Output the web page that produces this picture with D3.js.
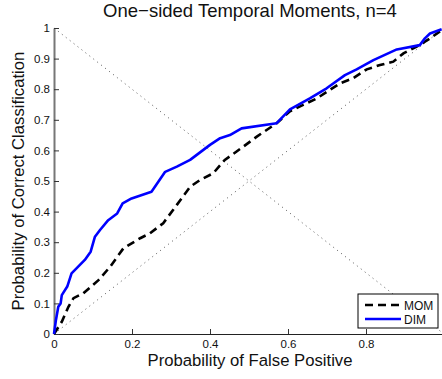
<!DOCTYPE html>
<html>
<head>
<meta charset="utf-8">
<script src="https://cdn.jsdelivr.net/npm/d3@7"></script>
<style>
  body { margin: 0; background: #fff; }
  svg { display: block; font-family: "Liberation Sans", Arial, sans-serif; }
</style>
</head>
<body>
<script>
// ROC curves
var momX = [0, 0.02, 0.037, 0.05, 0.075, 0.114, 0.144, 0.178, 0.221, 0.246, 0.28, 0.315, 0.349, 0.374, 0.408, 0.438, 0.456, 0.485, 0.52, 0.571, 0.605, 0.674, 0.733, 0.767, 0.802, 0.836, 0.87, 0.896, 0.93, 0.964, 0.994];
var momY = [0, 0.04, 0.089, 0.117, 0.133, 0.176, 0.22, 0.28, 0.313, 0.329, 0.362, 0.422, 0.481, 0.503, 0.525, 0.569, 0.585, 0.612, 0.645, 0.689, 0.728, 0.77, 0.819, 0.836, 0.865, 0.879, 0.89, 0.917, 0.939, 0.966, 0.993];
var dimX = [0, 0.005, 0.011, 0.017, 0.02, 0.034, 0.045, 0.079, 0.094, 0.105, 0.118, 0.139, 0.162, 0.176, 0.199, 0.25, 0.285, 0.315, 0.349, 0.4, 0.426, 0.451, 0.481, 0.571, 0.605, 0.656, 0.699, 0.746, 0.776, 0.819, 0.879, 0.938, 0.951, 0.964, 0.994];
var dimY = [0, 0.046, 0.089, 0.1, 0.127, 0.155, 0.198, 0.242, 0.269, 0.318, 0.34, 0.372, 0.394, 0.427, 0.443, 0.465, 0.53, 0.547, 0.569, 0.618, 0.64, 0.65, 0.672, 0.689, 0.734, 0.77, 0.803, 0.846, 0.865, 0.895, 0.93, 0.944, 0.966, 0.982, 0.996];
var xTicks = [0, 0.2, 0.4, 0.6, 0.8];
var yTicks = [0, 0.1, 0.2, 0.3, 0.4, 0.5, 0.6, 0.7, 0.8, 0.9, 1];
var seriesNames = ["MOM", "DIM"];

var W = 442, H = 379;
var svg = d3.select("body").append("svg").attr("width", W).attr("height", H);

var x = d3.scaleLinear().domain([0, 1]).range([54, 444]);
var y = d3.scaleLinear().domain([0, 1]).range([334, 28]);

// chance / reference diagonals
var line = d3.line().x(function(d){ return x(d[0]); }).y(function(d){ return y(d[1]); });
svg.append("path").datum([[0,0],[1,1]]).attr("d", line)
  .attr("fill", "none").attr("stroke", "#555").attr("stroke-width", 1).attr("stroke-dasharray", "1,4");
svg.append("path").datum([[0,1],[1,0]]).attr("d", line)
  .attr("fill", "none").attr("stroke", "#555").attr("stroke-width", 1).attr("stroke-dasharray", "1,4");

// axes (matlab style, ticks pointing in)
var fmt = function(d){ return d3.format("")(+d.toFixed(1)); };
var xa = svg.append("g").attr("transform", "translate(0," + y(0) + ")")
  .call(d3.axisBottom(x).tickValues(xTicks).tickSizeInner(-5).tickSizeOuter(0).tickPadding(6).tickFormat(fmt));
var ya = svg.append("g").attr("transform", "translate(" + x(0) + ",0)")
  .call(d3.axisLeft(y).tickValues(yTicks).tickSizeInner(-5).tickSizeOuter(0).tickPadding(4).tickFormat(fmt));
xa.select(".domain").attr("stroke", "#222").attr("stroke-width", 1.2);
ya.select(".domain").attr("stroke", "#777").attr("stroke-width", 2);
svg.selectAll(".tick text").attr("font-size", 11.5).attr("fill", "#111").attr("font-family", "Liberation Sans, Arial, sans-serif");
svg.selectAll(".tick line").attr("stroke", "#333");

// curves
var mom = d3.zip(momX, momY), dim = d3.zip(dimX, dimY);
svg.append("path").datum(mom).attr("d", line)
  .attr("fill", "none").attr("stroke", "#000").attr("stroke-width", 2.6).attr("stroke-dasharray", "8,5");
svg.append("path").datum(dim).attr("d", line)
  .attr("fill", "none").attr("stroke", "#0000ff").attr("stroke-width", 2.6).attr("stroke-linejoin", "round");

// legend
var lg = svg.append("g");
lg.append("rect").attr("x", 358).attr("y", 294).attr("width", 80).attr("height", 34)
  .attr("fill", "#fff").attr("stroke", "#000").attr("stroke-width", 1);
seriesNames.forEach(function(n, i) {
  var ly = 305 + i * 14;
  lg.append("line").attr("x1", 365).attr("x2", 401).attr("y1", ly).attr("y2", ly)
    .attr("stroke", i == 0 ? "#000" : "#0000ff").attr("stroke-width", 2.6)
    .attr("stroke-dasharray", i == 0 ? "8,5" : null);
  lg.append("text").attr("x", 404).attr("y", ly + 4.5).attr("font-size", 12).attr("fill", "#111").text(n);
});

// labels
svg.append("text").attr("x", 250).attr("y", 17).attr("text-anchor", "middle")
  .attr("font-size", 18.5).attr("fill", "#111").text("One\u2212sided Temporal Moments, n=4");
svg.append("text").attr("x", 250).attr("y", 366).attr("text-anchor", "middle")
  .attr("font-size", 16.7).attr("fill", "#111").text("Probability of False Positive");
svg.append("text").attr("transform", "translate(24,181) rotate(-90)").attr("text-anchor", "middle")
  .attr("font-size", 16.7).attr("fill", "#111").text("Probability of Correct Classification");
</script>
</body>
</html>
